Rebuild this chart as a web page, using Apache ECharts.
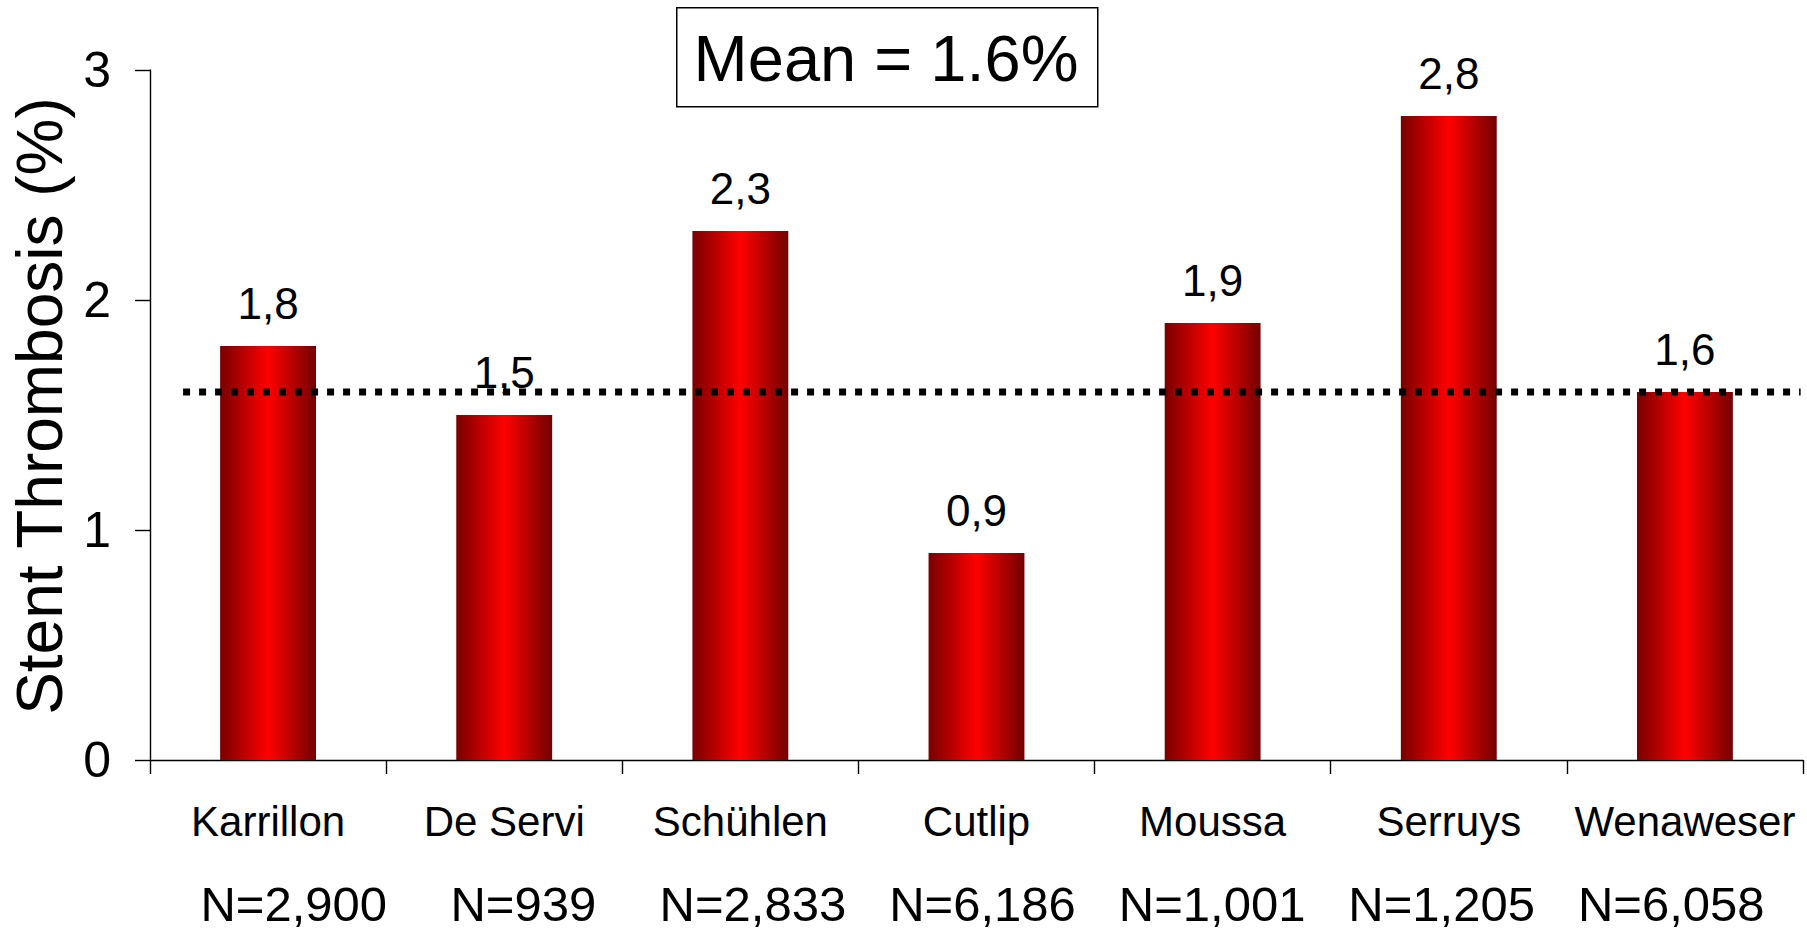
<!DOCTYPE html>
<html>
<head>
<meta charset="utf-8">
<script src="https://cdn.jsdelivr.net/npm/echarts@6/dist/echarts.min.js"></script>
<style>
html,body{margin:0;padding:0;background:#fff;}
#chart{width:1807px;height:933px;}
</style>
</head>
<body>
<div id="chart"></div>
<script>
const categories = ['Karrillon', 'De Servi', 'Schühlen', 'Cutlip', 'Moussa', 'Serruys', 'Wenaweser'];
const values = [1.8, 1.5, 2.3, 0.9, 1.9, 2.8, 1.6];
const sampleSizes = ['N=2,900', 'N=939', 'N=2,833', 'N=6,186', 'N=1,001', 'N=1,205', 'N=6,058'];
const meanValue = 1.6;
const meanLabel = 'Mean = 1.6%';
const yTitle = 'Stent Thrombosis (%)';
const yMin = 0, yMax = 3, yInterval = 1;
// mean line extent in category-index units
const meanLineSpan = [-0.36, 6.49];

const FONT = "'Liberation Sans', Arial, sans-serif";
const chart = echarts.init(document.getElementById('chart'), null, {renderer: 'svg'});

const barGradient = new echarts.graphic.LinearGradient(0, 0, 1, 0, [
  {offset: 0, color: '#780000'},
  {offset: 0.5, color: '#ff0000'},
  {offset: 1, color: '#730000'}
]);

const option = {
  backgroundColor: '#ffffff',
  animation: false,
  grid: [
    {left: 150, right: 4, top: 70, bottom: 173},
    {left: 179, right: 21, top: 70, bottom: 173}
  ],
  xAxis: [
    {
      type: 'category', gridIndex: 0, data: categories, boundaryGap: true,
      axisLine: {lineStyle: {color: '#000', width: 1.4}},
      axisTick: {show: true, length: 14, interval: 0, lineStyle: {color: '#000', width: 1.4}},
      axisLabel: {interval: 0, color: '#000', fontFamily: FONT, fontSize: 42, margin: 40}
    },
    {
      type: 'category', gridIndex: 1, data: sampleSizes, boundaryGap: true,
      axisLine: {show: false}, axisTick: {show: false},
      axisLabel: {interval: 0, color: '#000', fontFamily: FONT, fontSize: 49, lineHeight: 46, margin: 121}
    },
    {
      type: 'value', gridIndex: 0, min: -0.5, max: 6.5, show: false
    }
  ],
  yAxis: [
    {
      type: 'value', gridIndex: 0, min: yMin, max: yMax, interval: yInterval,
      axisLine: {show: true, onZero: false, lineStyle: {color: '#000', width: 1.4}},
      axisTick: {show: true, length: 15, lineStyle: {color: '#000', width: 1.4}},
      splitLine: {show: false},
      axisLabel: {color: '#000', fontFamily: FONT, fontSize: 50, margin: 39}
    },
    {type: 'value', gridIndex: 1, min: 0, max: 1, show: false}
  ],
  series: [
    {
      type: 'bar', xAxisIndex: 0, yAxisIndex: 0, data: values,
      barWidth: '40.6%',
      itemStyle: {color: barGradient},
      label: {
        show: true, position: 'top', distance: 21, color: '#000',
        fontFamily: FONT, fontSize: 44,
        formatter: p => p.value.toFixed(1).replace('.', ',')
      }
    },
    {
      type: 'line', xAxisIndex: 2, yAxisIndex: 0,
      data: [[meanLineSpan[0], meanValue], [meanLineSpan[1], meanValue]],
      symbol: 'none', z: 5,
      lineStyle: {color: '#000', width: 7, type: [7, 9], cap: 'butt'}
    }
  ],
  graphic: [
    {
      type: 'rect', left: 676, top: 7,
      shape: {width: 421, height: 99},
      style: {fill: '#fff', stroke: '#000', lineWidth: 1.5}
    },
    {
      type: 'text', x: 886, y: 58,
      style: {text: meanLabel, font: '65px ' + FONT, fill: '#000', align: 'center', verticalAlign: 'middle'}
    },
    {
      type: 'text', x: 40, y: 406, rotation: Math.PI / 2,
      style: {text: yTitle, font: '64px ' + FONT, fill: '#000', align: 'center', verticalAlign: 'middle'}
    }
  ]
};
chart.setOption(option);
</script>
</body>
</html>
